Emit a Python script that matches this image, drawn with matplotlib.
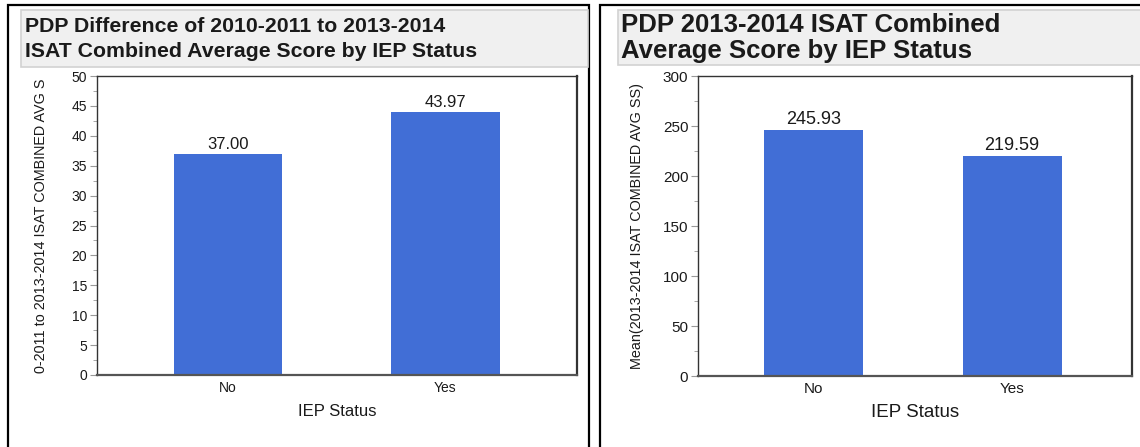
import matplotlib
matplotlib.use("Agg")
import matplotlib.pyplot as plt
from matplotlib.patches import Rectangle
from matplotlib.ticker import MultipleLocator

plt.rcParams['font.family'] = ['Liberation Sans', 'DejaVu Sans']

categories = ["No", "Yes"]
diff_values = [37.00, 43.97]
score_values = [245.93, 219.59]
left_title = ["PDP Difference of 2010-2011 to 2013-2014",
              "ISAT Combined Average Score by IEP Status"]
right_title = ["PDP 2013-2014 ISAT Combined",
               "Average Score by IEP Status"]
left_ylabel = "0-2011 to 2013-2014 ISAT COMBINED AVG S"
right_ylabel = "Mean(2013-2014 ISAT COMBINED AVG SS)"
xlabel = "IEP Status"

W, H = 1140, 447
BAR = '#416ED6'
fig = plt.figure(figsize=(W / 100, H / 100), dpi=100)


def fx(px):
    return px / W


def fy(py):
    return 1 - py / H


# panel borders
for x0, x1 in [(8, 589), (600, 1150)]:
    fig.patches.append(Rectangle((fx(x0), fy(470)), fx(x1 - x0), (470 - 5) / H,
                                 transform=fig.transFigure, fill=False,
                                 edgecolor='black', lw=1.6, zorder=0))

# title boxes
for x0, x1, y0, y1 in [(21, 588, 10, 67), (618, 1150, 10, 65)]:
    fig.patches.append(Rectangle((fx(x0), fy(y1)), fx(x1 - x0), (y1 - y0) / H,
                                 transform=fig.transFigure, facecolor='#f0f0f0',
                                 edgecolor='#d2d2d2', lw=1.2, zorder=0))

fig.text(fx(25), fy(32), left_title[0], fontsize=15.3, fontweight='bold',
         color='#1a1a1a', va='baseline', ha='left')
fig.text(fx(25), fy(57), left_title[1], fontsize=15.3, fontweight='bold',
         color='#1a1a1a', va='baseline', ha='left')
fig.text(fx(621), fy(32), right_title[0], fontsize=18.5, fontweight='bold',
         color='#1a1a1a', va='baseline', ha='left')
fig.text(fx(621), fy(58), right_title[1], fontsize=18.5, fontweight='bold',
         color='#1a1a1a', va='baseline', ha='left')


def make_axes(rect, values, ymax, major, minor, xlim, ylab, ylabel_x,
              tick_fs, val_fs, xl_fs, ylab_fs, labelpad):
    ax = fig.add_axes(rect)
    x = range(len(categories))
    bars = ax.bar(x, values, width=0.5, color=BAR, zorder=2)
    ax.set_xlim(*xlim)
    ax.set_ylim(0, ymax)
    ax.yaxis.set_major_locator(MultipleLocator(major))
    ax.yaxis.set_minor_locator(MultipleLocator(minor))
    ax.set_xticks(list(x))
    ax.set_xticklabels(categories)
    ax.tick_params(axis='x', length=0, labelsize=tick_fs, pad=4, colors='#1a1a1a')
    ax.tick_params(axis='y', which='major', length=5, color='#999999',
                   labelsize=tick_fs, pad=2, labelcolor='#1a1a1a')
    ax.tick_params(axis='y', which='minor', length=3, color='#999999')
    for s in ax.spines.values():
        s.set_color('#333333')
        s.set_linewidth(1.0)
    ax.spines['right'].set_linewidth(1.6)
    ax.spines['bottom'].set_linewidth(1.6)
    ax.spines['bottom'].set_color('#555555')
    for b, v in zip(bars, values):
        ax.annotate(f"{v:.2f}", (b.get_x() + b.get_width() / 2, v),
                    xytext=(0, 1.5), textcoords='offset points',
                    ha='center', va='bottom', fontsize=val_fs, color='#1a1a1a')
    ax.set_xlabel(xlabel, fontsize=xl_fs, labelpad=labelpad, color='#1a1a1a')
    fig.text(ylabel_x, rect[1] + rect[3] / 2, ylab, rotation=90,
             ha='center', va='center', fontsize=ylab_fs, color='#1a1a1a')
    return ax


make_axes([fx(97), fy(375), fx(480), (375 - 76) / H], diff_values, 50, 5, 2.5,
          (-0.604, 1.606), left_ylabel, fx(41), 10, 12, 12, 10.4, 7)
make_axes([fx(698), fy(376), fx(434), (376 - 76) / H], score_values, 300, 50, 25,
          (-0.585, 1.605), right_ylabel, fx(637), 11, 13, 13.5, 10.4, 6)

fig.savefig("out.png", dpi=100)
